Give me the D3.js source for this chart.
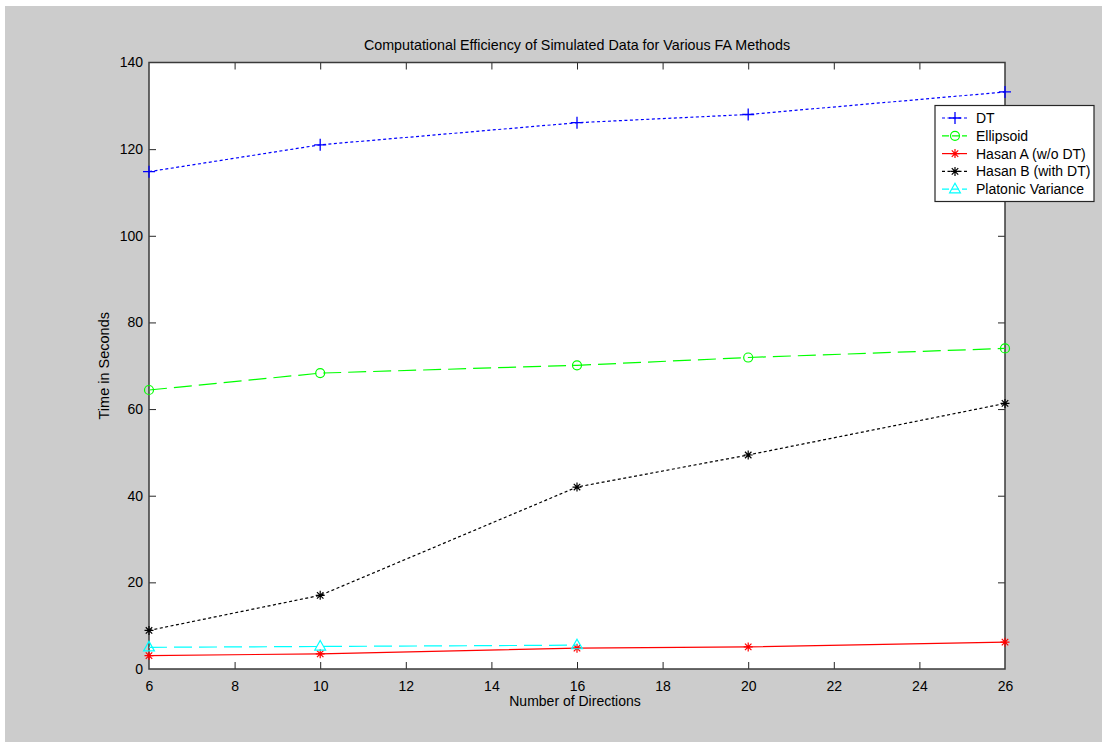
<!DOCTYPE html>
<html>
<head>
<meta charset="utf-8">
<script src="https://cdn.jsdelivr.net/npm/d3@7"></script>
<style>
  html, body { margin: 0; padding: 0; background: #ffffff; }
  svg { display: block; font-family: "Liberation Sans", Arial, sans-serif; }
</style>
</head>
<body>
<svg id="chart" width="1102" height="742"></svg>
<script>
// Number of directions sampled
const directions = [6, 10, 16, 20, 26];

// Run time (seconds) for each FA method
const dtTimes        = [114.8, 121.0, 126.1, 128.0, 133.2];
const ellipsoidTimes = [64.4, 68.3, 70.1, 71.9, 74.0];
const hasanATimes    = [3.1, 3.5, 4.8, 5.1, 6.2];
const hasanBTimes    = [8.9, 17.0, 42.0, 49.4, 61.3];
const platonicDirs   = [6, 10, 16];
const platonicTimes  = [5.0, 5.2, 5.5];

const xTicks = [6, 8, 10, 12, 14, 16, 18, 20, 22, 24, 26];
const yTicks = [0, 20, 40, 60, 80, 100, 120, 140];

const series = [
  { name: "DT",                 xs: directions,   ys: dtTimes,        color: "#0000ff", dash: "3,2.5",  marker: "plus" },
  { name: "Ellipsoid",          xs: directions,   ys: ellipsoidTimes, color: "#00ff00", dash: "18,7",   marker: "circle" },
  { name: "Hasan A (w/o DT)",   xs: directions,   ys: hasanATimes,    color: "#ff0000", dash: null,     marker: "star" },
  { name: "Hasan B (with DT)",  xs: directions,   ys: hasanBTimes,    color: "#000000", dash: "3,2.5",  marker: "star" },
  { name: "Platonic Variance",  xs: platonicDirs, ys: platonicTimes,  color: "#00ffff", dash: "18,7",   marker: "triangle" }
];

const svg = d3.select("#chart");
const W = 1102, H = 742;
const fontSize = "14px";

// figure background
svg.append("rect").attr("x", 5).attr("y", 6).attr("width", W - 5).attr("height", H - 6).attr("fill", "#cccccc");

const plotL = 149, plotR = 1005, plotT = 62.5, plotB = 669;
const x = d3.scaleLinear().domain([6, 26]).range([plotL, plotR]);
const y = d3.scaleLinear().domain([0, 140]).range([plotB, plotT]);

// plot area
svg.append("rect").attr("x", plotL).attr("y", plotT).attr("width", plotR - plotL).attr("height", plotB - plotT).attr("fill", "#ffffff");

const tickLen = 7;
const axisColor = "#262626";

// bottom axis with labels, inward ticks
const gx = svg.append("g").attr("transform", `translate(0,${plotB})`)
  .call(d3.axisBottom(x).tickValues(xTicks).tickSizeInner(-tickLen).tickSizeOuter(0).tickPadding(12).tickFormat(d3.format("d")));
// top axis, ticks only
const gxt = svg.append("g").attr("transform", `translate(0,${plotT})`)
  .call(d3.axisTop(x).tickValues(xTicks).tickSizeInner(-tickLen).tickSizeOuter(0).tickFormat(""));
// left axis with labels
const gy = svg.append("g").attr("transform", `translate(${plotL},0)`)
  .call(d3.axisLeft(y).tickValues(yTicks).tickSizeInner(-tickLen).tickSizeOuter(0).tickPadding(6).tickFormat(d3.format("d")));
// right axis, ticks only
const gyr = svg.append("g").attr("transform", `translate(${plotR},0)`)
  .call(d3.axisRight(y).tickValues(yTicks).tickSizeInner(-tickLen).tickSizeOuter(0).tickFormat(""));

[gx, gxt, gy, gyr].forEach(g => {
  g.select(".domain").remove();
  g.selectAll(".tick line").attr("stroke", axisColor).attr("stroke-width", 1);
  g.selectAll("text").attr("fill", "#000").style("font-size", fontSize)
    .style("font-family", "'Liberation Sans', Arial, sans-serif");
});
// skip end ticks that coincide with the frame
gx.selectAll(".tick").filter(d => d === 6 || d === 26).select("line").remove();
gxt.selectAll(".tick").filter(d => d === 6 || d === 26).remove();
gy.selectAll(".tick").filter(d => d === 0 || d === 140).select("line").remove();
gyr.selectAll(".tick").filter(d => d === 0 || d === 140).remove();

// frame
svg.append("rect").attr("x", plotL).attr("y", plotT).attr("width", plotR - plotL).attr("height", plotB - plotT)
  .attr("fill", "none").attr("stroke", "#3a3a3a").attr("stroke-width", 1.5);

// marker drawing
function drawMarker(g, type, cx, cy, color) {
  const s = 6;
  if (type === "plus") {
    g.append("path").attr("d", `M${cx - s},${cy}H${cx + s}M${cx},${cy - s}V${cy + s}`)
      .attr("stroke", color).attr("stroke-width", 1.3).attr("fill", "none");
  } else if (type === "circle") {
    g.append("circle").attr("cx", cx).attr("cy", cy).attr("r", 4.5)
      .attr("stroke", color).attr("stroke-width", 1.2).attr("fill", "none");
  } else if (type === "star") {
    const r = 4.5;
    const d = r * 0.72;
    g.append("path").attr("d",
      `M${cx - r},${cy}H${cx + r}M${cx},${cy - r}V${cy + r}M${cx - d},${cy - d}L${cx + d},${cy + d}M${cx - d},${cy + d}L${cx + d},${cy - d}`)
      .attr("stroke", color).attr("stroke-width", 1.2).attr("fill", "none");
  } else if (type === "triangle") {
    const r = 6;
    g.append("path").attr("d", `M${cx},${cy - r}L${cx + r * 0.9},${cy + r * 0.6}L${cx - r * 0.9},${cy + r * 0.6}Z`)
      .attr("stroke", color).attr("stroke-width", 1.2).attr("fill", "none");
  }
}

const line = d3.line().x(d => x(d[0])).y(d => y(d[1]));
const plot = svg.append("g");

series.forEach(s => {
  const pts = s.xs.map((v, i) => [v, s.ys[i]]);
  plot.append("path").datum(pts).attr("d", line)
    .attr("fill", "none").attr("stroke", s.color).attr("stroke-width", 1.2)
    .attr("stroke-dasharray", s.dash);
  const mg = plot.append("g");
  pts.forEach(p => drawMarker(mg, s.marker, x(p[0]), y(p[1]), s.color));
});

// title and axis labels
svg.append("text").attr("x", (plotL + plotR) / 2).attr("y", 50).attr("text-anchor", "middle")
  .style("font-size", "14.3px").text("Computational Efficiency of Simulated Data for Various FA Methods");
svg.append("text").attr("x", (plotL + plotR) / 2 - 2).attr("y", 706).attr("text-anchor", "middle")
  .style("font-size", fontSize).text("Number of Directions");
svg.append("text").attr("transform", `translate(109,${(plotT + plotB) / 2}) rotate(-90)`).attr("text-anchor", "middle")
  .style("font-size", "14.5px").text("Time in Seconds");

// legend
const lg = svg.append("g");
const lx = 935, ly = 105.5, lw = 159, lh = 96;
lg.append("rect").attr("x", lx).attr("y", ly).attr("width", lw).attr("height", lh)
  .attr("fill", "#ffffff").attr("stroke", "#262626").attr("stroke-width", 1.2);
series.forEach((s, i) => {
  const cy = ly + 12.5 + i * 17.8;
  lg.append("line").attr("x1", lx + 7).attr("x2", lx + 32).attr("y1", cy).attr("y2", cy)
    .attr("stroke", s.color).attr("stroke-width", 1.2)
    .attr("stroke-dasharray", s.dash ? (s.dash === "18,7" ? "7,3" : "3,2.5") : null);
  drawMarker(lg, s.marker, lx + 20, cy, s.color);
  lg.append("text").attr("x", lx + 41).attr("y", cy + 5).style("font-size", fontSize).text(s.name);
});
</script>
</body>
</html>
